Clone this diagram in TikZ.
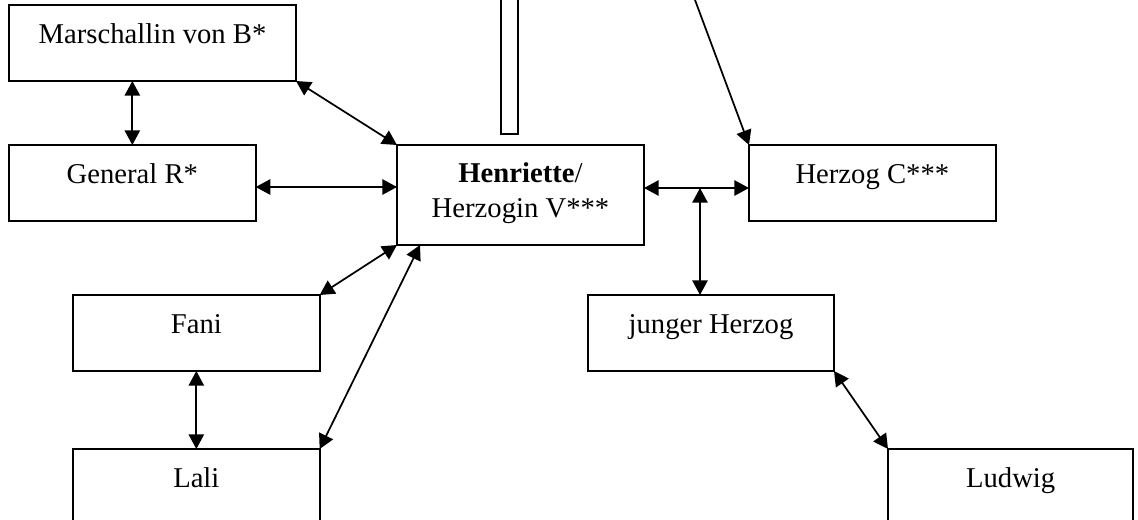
\documentclass[tikz,border=0pt]{standalone}
\usepackage{fontspec}
\setmainfont{Liberation Serif}
\usetikzlibrary{arrows.meta}

\tikzset{
  box/.style={draw, line width=1.3pt, inner sep=0pt, outer sep=0pt,
    anchor=north west, minimum height=57pt, minimum width=185pt},
  lbl/.style={anchor=base, inner sep=0pt, font=\fontsize{21.5pt}{25pt}\selectfont},
  tip/.tip={Triangle[length=11pt,width=11.5pt]},
  link/.style={line width=1.3pt, tip-tip},
  oneway/.style={line width=1.3pt, -tip}
}

\begin{document}
\begin{tikzpicture}[x=0.75pt, y=-0.75pt]
  \useasboundingbox (0,0) rectangle (1138,519);
  \clip (0,0) rectangle (1138,519);

  % boxes
  \node[box, minimum width=215.25pt] (mar) at (9,5) {};
  \node[box] (gen) at (9,145) {};
  \node[box, minimum width=185.25pt, minimum height=75pt] (hen) at (397,145) {};
  \node[box] (hc) at (749,145) {};
  \node[box] (fani) at (73,295) {};
  \node[box] (lali) at (73,449) {};
  \node[box, minimum width=184.5pt] (jh) at (588,295) {};
  \node[box, minimum width=184pt] (lud) at (888,449) {};

  % narrow bar entering from the top edge
  \node[box, anchor=south west, minimum width=12.75pt, minimum height=108pt] (bar) at (501,134) {};

  % labels
  \node[lbl] (mar-t) at ([yshift=-28.5pt]mar.north) {Marschallin von B*};
  \node[lbl] (gen-t) at ([yshift=-28.5pt]gen.north) {General R*};
  \node[lbl] (hen-t1) at ([yshift=-27.75pt]hen.north) {\textbf{Henriette}/};
  \node[lbl] (hen-t2) at ([yshift=-54pt]hen.north) {Herzogin V***};
  \node[lbl] (hc-t) at ([yshift=-28.5pt]hc.north) {Herzog C***};
  \node[lbl] (fani-t) at ([yshift=-28.5pt]fani.north) {Fani};
  \node[lbl] (lali-t) at ([yshift=-29pt]lali.north) {Lali};
  \node[lbl] (jh-t) at ([yshift=-29pt]jh.north) {junger Herzog};
  \node[lbl] (lud-t) at ([yshift=-29pt]lud.north) {Ludwig};

  % helper points
  \coordinate (rowA) at (0,187);
  \coordinate (jn) at (700,188);
  \coordinate (henL) at (420,245);
  \coordinate (topc) at (691.3,-10);

  % connectors
  \draw[link] (mar.south -| gen.north) -- (gen.north);
  \draw[link] (mar.south east) -- (hen.north west);
  \draw[link] (gen.east |- rowA) -- (hen.west |- rowA);
  \draw[link] (hen.east |- jn) -- (hc.west |- jn);
  \draw[link] (jn) -- (jh.north -| jn);
  \draw[oneway] (topc) -- (hc.north west);
  \draw[link] (hen.south west) -- (fani.north east);
  \draw[link] (henL) -- (lali.north east);
  \draw[link] (fani.south) -- (lali.north);
  \draw[link] (jh.south east) -- (lud.north west);
\end{tikzpicture}
\end{document}
